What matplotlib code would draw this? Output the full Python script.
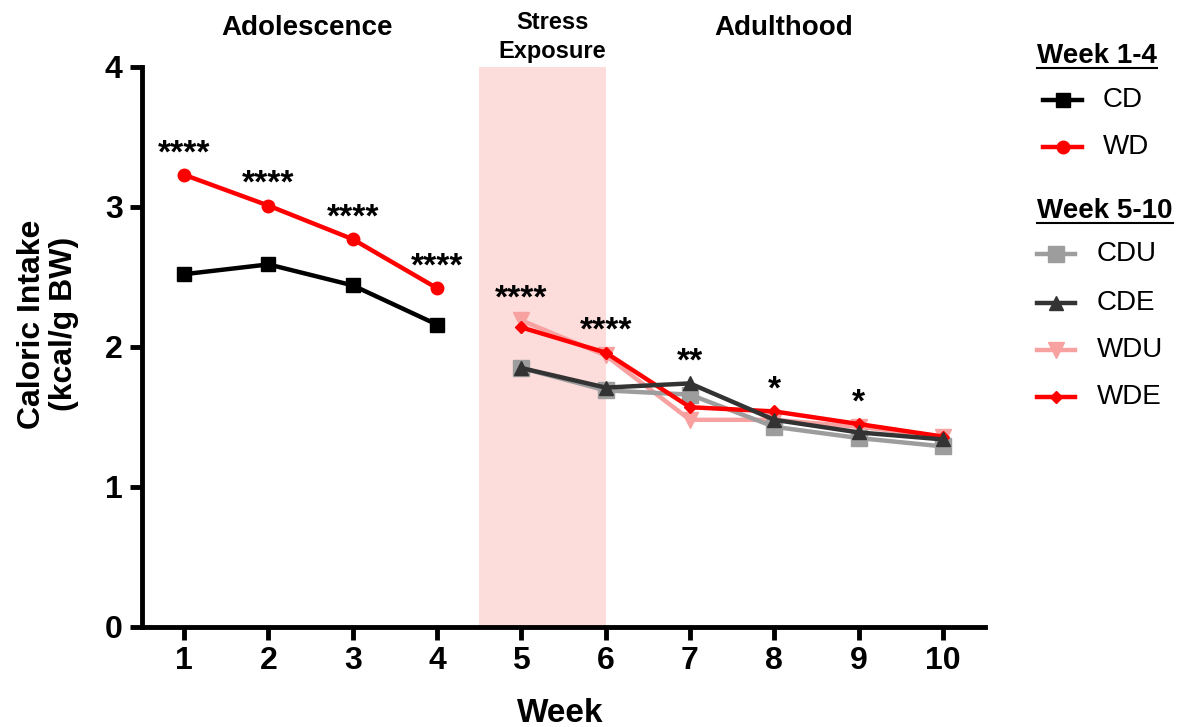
import matplotlib
matplotlib.use("Agg")
import matplotlib.pyplot as plt
from matplotlib.lines import Line2D
from matplotlib import font_manager

# ---------------- data ----------------
weeks_a = [1, 2, 3, 4]
cd = [2.52, 2.59, 2.44, 2.16]
wd = [3.23, 3.01, 2.77, 2.42]

weeks_b = [5, 6, 7, 8, 9, 10]
cdu = [1.85, 1.69, 1.66, 1.43, 1.35, 1.29]
cde = [1.85, 1.71, 1.74, 1.48, 1.39, 1.34]
wdu = [2.19, 1.94, 1.48, 1.48, 1.43, 1.36]
wde = [2.14, 1.96, 1.57, 1.54, 1.45, 1.36]

star_weeks = [1, 2, 3, 4, 5, 6, 7, 8, 9]
star_labels = ["****", "****", "****", "****", "****", "****", "**", "*", "*"]

period_labels = ["Adolescence", "Stress\nExposure", "Adulthood"]
stress_span = (4.5, 6.0)

x_ticks = list(range(1, 11))
y_ticks = [0, 1, 2, 3, 4]

# ---------------- fonts ----------------
names = {f.name for f in font_manager.fontManager.ttflist}
base = "Liberation Sans" if "Liberation Sans" in names else "DejaVu Sans"
narrow = "Liberation Sans Narrow" if "Liberation Sans Narrow" in names else base
plt.rcParams["font.family"] = base

# ---------------- figure ----------------
W, H = 1185, 727
fig = plt.figure(figsize=(W / 100, H / 100), dpi=100)
ax = fig.add_axes([142 / W, 1 - 627 / H, (985 - 142) / W, (627 - 67) / H])

ax.axvspan(*stress_span, color="#fddcdc", lw=0, zorder=0)

lw = 3.2
ax.plot(weeks_a, cd, color="black", lw=lw, marker="s", ms=10, zorder=3)
ax.plot(weeks_a, wd, color="#ff0000", lw=lw, marker="o", ms=9, zorder=3)
ax.plot(weeks_b, cdu, color="#9d9d9d", lw=lw, marker="s", ms=12, zorder=3)
ax.plot(weeks_b, cde, color="#333333", lw=lw, marker="^", ms=10, zorder=4)
ax.plot(weeks_b, wdu, color="#f7a1a1", lw=lw, marker="v", ms=11, zorder=2)
ax.plot(weeks_b, wde, color="#ff0000", lw=lw, marker="D", ms=6, zorder=3)

all_a = {w: max(c, d) for w, c, d in zip(weeks_a, cd, wd)}
all_b = {w: max(vals) for w, *vals in zip(weeks_b, cdu, cde, wdu, wde)}
tops = {**all_a, **all_b}
for w, lab in zip(star_weeks, star_labels):
    ax.annotate(lab, (w, tops[w]), xytext=(0, 4), textcoords="offset points",
                ha="center", va="bottom", fontsize=24, fontweight="bold")

ax.set_xlim(0.5, 10.5)
ax.set_ylim(0, 4)
ax.set_xticks(x_ticks)
ax.set_yticks(y_ticks)
for s in ["top", "right"]:
    ax.spines[s].set_visible(False)
for s in ["left", "bottom"]:
    ax.spines[s].set_linewidth(3.5)
ax.tick_params(width=3.5, length=9, labelsize=23, pad=5)
for t in ax.get_xticklabels() + ax.get_yticklabels():
    t.set_fontweight("bold")

fig.text(560 / W, 1 - 713 / H, "Week", ha="center", va="center",
         fontsize=24, fontweight="bold")
fig.text(48 / W, 0.554, "Caloric Intake\n(kcal/g BW)", rotation=90,
         ha="center", va="center", fontsize=23, fontweight="bold", linespacing=1.1)

# period labels
fig.text(307 / W, 1 - 28 / H, period_labels[0], ha="center", va="center",
         fontsize=20, fontweight="bold", family=narrow)
fig.text(552 / W, 1 - 37 / H, period_labels[1], ha="center", va="center",
         fontsize=17, fontweight="bold", family=narrow, linespacing=1.3)
fig.text(784 / W, 1 - 28 / H, period_labels[2], ha="center", va="center",
         fontsize=20, fontweight="bold", family=narrow)

# ---------------- legend (manual) ----------------
renderer = fig.canvas.get_renderer()

def header(txt, x0, y):
    t = fig.text(x0 / W, 1 - y / H, txt, ha="left", va="center",
                 fontsize=20, fontweight="bold")
    bb = t.get_window_extent(renderer=renderer)
    fig.add_artist(Line2D([bb.x0 / W, bb.x1 / W], [1 - (y + 12) / H] * 2,
                          color="black", lw=1.5, transform=fig.transFigure))

def entry(label, y, color, marker, ms, lx0, lx1, tx):
    fig.add_artist(Line2D([lx0 / W, lx1 / W], [1 - y / H] * 2, color=color, lw=lw,
                          transform=fig.transFigure))
    fig.add_artist(Line2D([(lx0 + lx1) / 2 / W], [1 - y / H], color=color,
                          marker=marker, ms=ms, lw=0, transform=fig.transFigure))
    fig.text(tx / W, 1 - y / H, label, ha="left", va="center", fontsize=20)

header("Week 1-4", 1037, 56)
entry("CD", 100, "black", "s", 10, 1043, 1082, 1103)
entry("WD", 147, "#ff0000", "o", 9, 1043, 1082, 1103)
header("Week 5-10", 1037, 211)
entry("CDU", 254, "#9d9d9d", "s", 12, 1037, 1075, 1097)
entry("CDE", 303, "#333333", "^", 10, 1037, 1075, 1097)
entry("WDU", 350, "#f7a1a1", "v", 11, 1037, 1075, 1097)
entry("WDE", 397, "#ff0000", "D", 6, 1037, 1075, 1097)

fig.savefig("out.png", dpi=100)
